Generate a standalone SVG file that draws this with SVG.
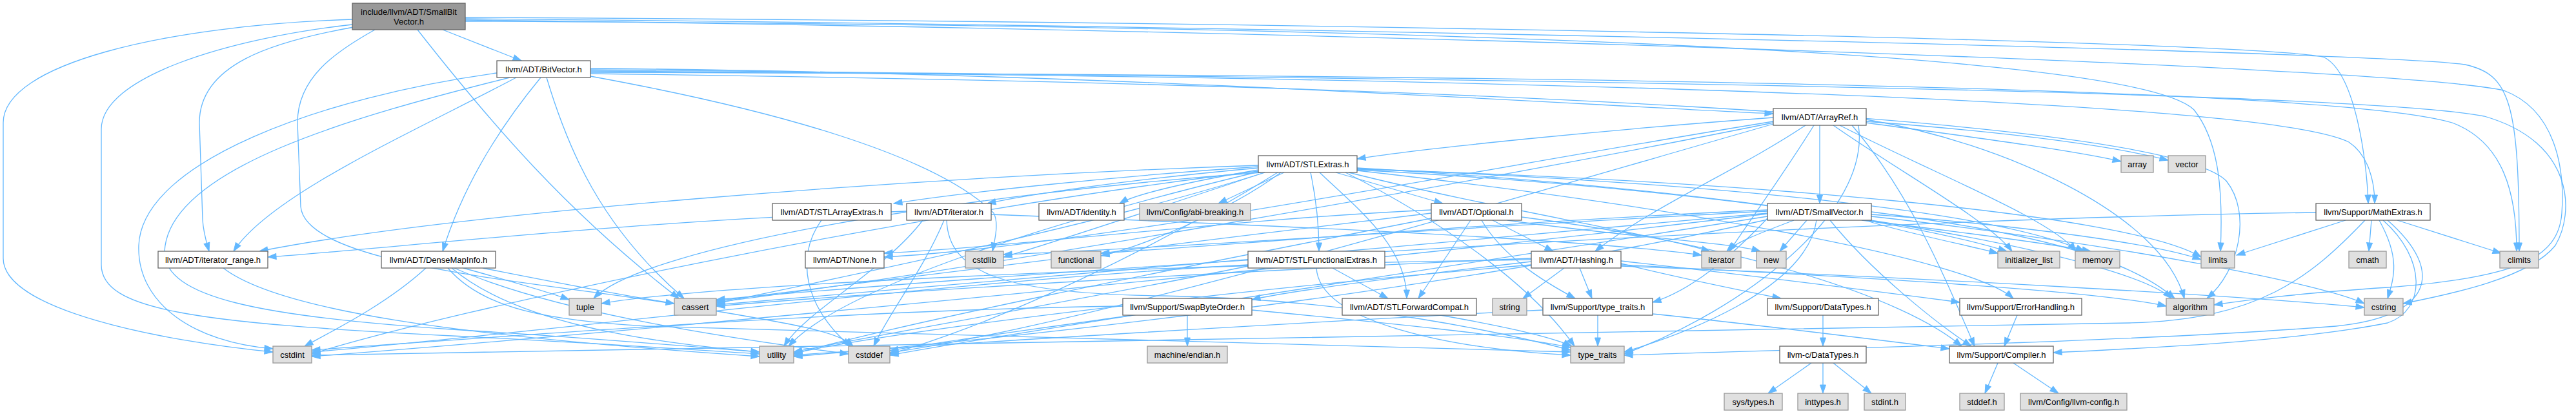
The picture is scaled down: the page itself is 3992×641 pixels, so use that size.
<svg xmlns="http://www.w3.org/2000/svg" width="3992" height="641" viewBox="0 0 3992 641">
<style>
.n rect{fill:#ffffff;stroke:#666666;stroke-width:1.3}
.x rect{fill:#e0e0e0;stroke:#999999;stroke-width:1.3}
.r rect{fill:#999999;stroke:#666666;stroke-width:1.3}
text{font-family:"Liberation Sans",Arial,Helvetica,sans-serif;font-size:13px;fill:#000000;text-anchor:middle}
#edges path{fill:none;stroke:#63b8ff;stroke-width:1.3;marker-end:url(#ah)}
</style>
<defs>
<marker id="ah" markerUnits="userSpaceOnUse" markerWidth="14" markerHeight="10" refX="13" refY="5" orient="auto" viewBox="0 0 14 10" overflow="visible">
<path d="M0,0.5 L13,5 L0,9.5 z" fill="#63b8ff" stroke="#63b8ff" stroke-width="1"/>
</marker>
</defs>
<rect x="0" y="0" width="3992" height="641" fill="#ffffff"/>
<g id="edges">
<path d="M686,46 L808,94"/>
<path d="M546,30 C250,40 5,100 5,190 L5,400 C5,480 250,528 423,545"/>
<path d="M546,38 C350,60 157,120 157,200 L157,410 C157,480 300,500 700,520 C900,530 1050,540 1177,548"/>
<path d="M548,42 C420,65 309,100 309,190 L314,340 C315,360 320,375 324,389"/>
<path d="M581,46 C520,80 461,120 461,190 L466,320 C475,420 900,440 1100,480 C1250,505 1300,515 1322,536"/>
<path d="M647,46 C760,190 880,330 1052,462"/>
<path d="M721,27 C1800,32 3450,60 3600,88 C3650,110 3668,250 3670,315"/>
<path d="M721,29 C2000,40 3700,80 3820,100 C3890,115 3904,160 3904,389"/>
<path d="M721,31 C2000,45 3700,100 3880,140 C3960,170 3975,260 3970,330 C3965,400 3900,430 3700,445 C3550,455 3480,465 3431,472"/>
<path d="M721,33 C2000,38 3300,70 3400,170 C3440,220 3445,300 3441,389"/>
<path d="M915,106 C1700,112 2400,160 2748,176"/>
<path d="M838,120 C780,190 720,280 686,389"/>
<path d="M800,120 C650,200 420,300 362,389"/>
<path d="M915,110 C2200,118 3500,150 3640,220 C3670,240 3680,280 3680,315"/>
<path d="M915,114 C2200,130 3350,180 3450,280 C3490,330 3470,420 3420,462"/>
<path d="M847,120 C880,230 930,350 1060,462"/>
<path d="M915,112 C2200,115 3600,130 3800,190 C3880,220 3900,300 3900,389"/>
<path d="M770,113 C500,150 220,250 215,380 C212,470 300,530 423,540"/>
<path d="M790,120 C550,180 260,260 255,390 C255,460 400,490 700,510 C900,522 1050,535 1177,545"/>
<path d="M915,118 C1200,170 1450,240 1540,330 C1548,345 1542,370 1538,389"/>
<path d="M915,108 C2200,120 3650,140 3850,180 C3990,220 3990,330 3960,380 C3920,430 3800,455 3724,470"/>
<path d="M2820,194 L2820,315"/>
<path d="M2748,182 C2500,200 2200,230 2103,246"/>
<path d="M2798,194 C2700,260 2560,320 2472,389"/>
<path d="M2748,188 C2300,260 1700,380 1370,398"/>
<path d="M2870,194 C2960,300 3010,420 3060,536"/>
<path d="M2892,185 C3100,220 3350,330 3385,462"/>
<path d="M2892,190 C3000,205 3200,230 3287,250"/>
<path d="M2748,190 C2300,280 1500,420 1110,468"/>
<path d="M2748,192 C2300,320 1700,500 1379,546"/>
<path d="M2841,194 C2950,270 3080,340 3118,389"/>
<path d="M2811,194 C2770,260 2720,330 2680,389"/>
<path d="M2851,194 C3000,270 3180,340 3217,389"/>
<path d="M2880,194 C2900,330 2700,480 2517,548"/>
<path d="M2892,188 C3050,200 3250,220 3360,248"/>
<path d="M2070,267 L2236,315"/>
<path d="M1950,258 C1700,275 1480,300 1385,315"/>
<path d="M2045,267 C2100,320 2180,380 2180,462"/>
<path d="M2031,267 C2040,310 2044,350 2044,389"/>
<path d="M1950,263 C1850,280 1760,300 1735,315"/>
<path d="M1950,260 C1750,278 1600,300 1530,315"/>
<path d="M1950,256 C1400,275 700,330 402,389"/>
<path d="M1990,267 L1888,315"/>
<path d="M2103,264 C2600,320 3050,400 3120,462"/>
<path d="M2103,260 C2800,300 3300,400 3365,462"/>
<path d="M1960,267 C1700,350 1300,430 1110,470"/>
<path d="M1980,267 C1800,380 1550,500 1379,548"/>
<path d="M1950,265 C1400,330 700,480 483,548"/>
<path d="M1960,267 C1800,320 1620,380 1555,398"/>
<path d="M1985,267 C1900,330 1760,385 1706,396"/>
<path d="M2103,263 C2600,290 2950,340 3110,389"/>
<path d="M2090,267 C2300,320 2550,360 2650,389"/>
<path d="M2103,262 C2700,280 3300,330 3411,398"/>
<path d="M2103,261 C2700,285 3100,330 3230,389"/>
<path d="M1955,267 C1500,300 1000,380 920,462"/>
<path d="M2085,267 C2250,350 2380,450 2440,536"/>
<path d="M1950,266 C1600,350 1300,450 1222,536"/>
<path d="M2313,341 L2407,389"/>
<path d="M2218,325 C1900,340 1600,380 1370,392"/>
<path d="M2279,341 L2198,462"/>
<path d="M2358,336 C2700,380 2950,460 3040,536"/>
<path d="M2296,341 C2330,400 2400,440 2441,462"/>
<path d="M2218,330 C1800,380 1300,440 1110,466"/>
<path d="M2336,341 C2500,365 2680,375 2728,389"/>
<path d="M2218,338 C1800,420 1400,500 1230,548"/>
<path d="M2512,408 C2600,430 2700,450 2760,462"/>
<path d="M2512,404 C2700,425 2900,450 3037,468"/>
<path d="M2373,405 C2200,425 2000,450 1940,464"/>
<path d="M2448,415 L2467,462"/>
<path d="M2512,410 C2900,430 3250,450 3357,474"/>
<path d="M2373,400 C1900,420 1400,450 1110,474"/>
<path d="M2512,412 C3000,430 3500,460 3664,476"/>
<path d="M2424,415 L2360,462"/>
<path d="M2373,402 C1800,410 1100,440 932,470"/>
<path d="M2373,410 C1900,450 1400,510 1230,547"/>
<path d="M2836,341 C2900,420 3000,500 3055,536"/>
<path d="M2739,338 C2680,400 2620,450 2561,468"/>
<path d="M2900,328 C3150,360 3300,400 3370,462"/>
<path d="M2739,330 C2200,380 1500,440 1110,472"/>
<path d="M2739,335 C2200,420 1600,510 1379,550"/>
<path d="M2739,331 C2000,420 900,520 483,552"/>
<path d="M2739,327 C2300,350 1800,385 1555,394"/>
<path d="M2900,335 C3300,380 3600,440 3664,470"/>
<path d="M2739,325 C2300,345 1900,380 1706,392"/>
<path d="M2890,341 C2950,360 3050,380 3096,392"/>
<path d="M2780,341 C2730,360 2690,375 2676,389"/>
<path d="M2900,332 C3150,350 3350,380 3411,402"/>
<path d="M2885,341 C3050,360 3190,380 3240,389"/>
<path d="M2800,341 L2758,389"/>
<path d="M2815,341 C2800,450 2600,520 2517,545"/>
<path d="M2739,340 C2200,460 1500,530 1230,552"/>
<path d="M3693,341 C3760,400 3760,480 3700,500 C3550,530 3300,540 3182,546"/>
<path d="M3589,329 C2800,340 1600,420 1110,464"/>
<path d="M3715,341 L3876,392"/>
<path d="M3675,341 L3671,389"/>
<path d="M3665,341 C3580,430 3500,495 3300,500 C2000,520 800,545 483,550"/>
<path d="M3687,341 C3720,400 3710,430 3700,462"/>
<path d="M3635,341 L3466,395"/>
<path d="M3700,341 C3790,420 3770,490 3620,505 C3300,530 2800,540 2517,550"/>
<path d="M1405,327 C1000,340 600,385 415,398"/>
<path d="M1463,341 C1430,420 1380,480 1354,536"/>
<path d="M1536,332 C2000,350 2450,370 2637,395"/>
<path d="M1467,341 C1470,420 1550,455 1800,458 C2100,462 2350,520 2434,542"/>
<path d="M1430,341 C1370,420 1250,480 1215,536"/>
<path d="M346,415 C430,480 700,520 1177,552"/>
<path d="M748,415 C850,435 950,455 1045,470"/>
<path d="M704,415 C850,480 1100,520 1315,548"/>
<path d="M660,415 C600,470 520,510 472,536"/>
<path d="M718,415 C790,435 850,452 882,464"/>
<path d="M694,415 C750,480 850,495 1000,505 C1600,520 2200,535 2434,545"/>
<path d="M700,415 C800,500 1000,530 1177,545"/>
<path d="M1273,341 C1230,400 1250,480 1318,536"/>
<path d="M2065,415 L2151,462"/>
<path d="M1934,410 C1400,440 800,520 483,545"/>
<path d="M2040,415 C2045,500 2250,540 2434,550"/>
<path d="M1934,412 C1700,460 1350,520 1230,545"/>
<path d="M2232,488 C2330,505 2400,520 2436,536"/>
<path d="M1756,488 C1600,510 1450,530 1379,543"/>
<path d="M1740,474 C1300,480 800,520 483,542"/>
<path d="M1940,480 C2150,500 2350,520 2434,538"/>
<path d="M1840,488 L1840,536"/>
<path d="M2561,486 C2700,500 2900,525 3021,540"/>
<path d="M2476,488 L2476,536"/>
<path d="M2391,480 C2000,500 1500,530 1230,550"/>
<path d="M2825,488 L2825,536"/>
<path d="M2807,562 L2740,609"/>
<path d="M2825,562 L2825,609"/>
<path d="M2841,562 L2900,609"/>
<path d="M3126,488 L3106,536"/>
<path d="M3096,562 L3076,609"/>
<path d="M3120,562 L3190,609"/>
</g>
<g id="node1" class="r"><rect x="546" y="5" width="175" height="41"/><text x="633.5" y="23">include/llvm/ADT/SmallBit</text><text x="633.5" y="38">Vector.h</text></g>
<g id="node2" class="n"><rect x="770" y="94" width="145" height="26"/><text x="842.5" y="111.5">llvm/ADT/BitVector.h</text></g>
<g id="node3" class="n"><rect x="2748" y="168" width="144" height="26"/><text x="2820" y="185.5">llvm/ADT/ArrayRef.h</text></g>
<g id="node4" class="n"><rect x="1950" y="241" width="153" height="26"/><text x="2026.5" y="258.5">llvm/ADT/STLExtras.h</text></g>
<g id="node5" class="x"><rect x="3287" y="241" width="50" height="26"/><text x="3312" y="258.5">array</text></g>
<g id="node6" class="x"><rect x="3360" y="241" width="58" height="26"/><text x="3389" y="258.5">vector</text></g>
<g id="node7" class="n"><rect x="1197" y="315" width="184" height="26"/><text x="1289" y="332.5">llvm/ADT/STLArrayExtras.h</text></g>
<g id="node8" class="n"><rect x="1405" y="315" width="131" height="26"/><text x="1470.5" y="332.5">llvm/ADT/iterator.h</text></g>
<g id="node9" class="n"><rect x="1610" y="315" width="132" height="26"/><text x="1676" y="332.5">llvm/ADT/identity.h</text></g>
<g id="node10" class="x"><rect x="1766" y="315" width="172" height="26"/><text x="1852" y="332.5">llvm/Config/abi-breaking.h</text></g>
<g id="node11" class="n"><rect x="2218" y="315" width="140" height="26"/><text x="2288" y="332.5">llvm/ADT/Optional.h</text></g>
<g id="node12" class="n"><rect x="2739" y="315" width="161" height="26"/><text x="2819.5" y="332.5">llvm/ADT/SmallVector.h</text></g>
<g id="node13" class="n"><rect x="3589" y="315" width="177" height="26"/><text x="3677.5" y="332.5">llvm/Support/MathExtras.h</text></g>
<g id="node14" class="n"><rect x="245" y="389" width="170" height="26"/><text x="330" y="406.5">llvm/ADT/iterator_range.h</text></g>
<g id="node15" class="n"><rect x="591" y="389" width="177" height="26"/><text x="679.5" y="406.5">llvm/ADT/DenseMapInfo.h</text></g>
<g id="node16" class="n"><rect x="1248" y="389" width="122" height="26"/><text x="1309" y="406.5">llvm/ADT/None.h</text></g>
<g id="node17" class="x"><rect x="1496" y="389" width="59" height="26"/><text x="1525.5" y="406.5">cstdlib</text></g>
<g id="node18" class="x"><rect x="1629" y="389" width="77" height="26"/><text x="1667.5" y="406.5">functional</text></g>
<g id="node19" class="n"><rect x="1934" y="389" width="212" height="26"/><text x="2040" y="406.5">llvm/ADT/STLFunctionalExtras.h</text></g>
<g id="node20" class="n"><rect x="2373" y="389" width="139" height="26"/><text x="2442.5" y="406.5">llvm/ADT/Hashing.h</text></g>
<g id="node21" class="x"><rect x="2637" y="389" width="61" height="26"/><text x="2667.5" y="406.5">iterator</text></g>
<g id="node22" class="x"><rect x="2722" y="389" width="46" height="26"/><text x="2745" y="406.5">new</text></g>
<g id="node23" class="x"><rect x="3096" y="389" width="96" height="26"/><text x="3144" y="406.5">initializer_list</text></g>
<g id="node24" class="x"><rect x="3216" y="389" width="69" height="26"/><text x="3250.5" y="406.5">memory</text></g>
<g id="node25" class="x"><rect x="3411" y="389" width="52" height="26"/><text x="3437" y="406.5">limits</text></g>
<g id="node26" class="x"><rect x="3640" y="389" width="58" height="26"/><text x="3669" y="406.5">cmath</text></g>
<g id="node27" class="x"><rect x="3874" y="389" width="60" height="26"/><text x="3904" y="406.5">climits</text></g>
<g id="node28" class="x"><rect x="882" y="462" width="50" height="26"/><text x="907" y="479.5">tuple</text></g>
<g id="node29" class="x"><rect x="1045" y="462" width="65" height="26"/><text x="1077.5" y="479.5">cassert</text></g>
<g id="node30" class="n"><rect x="1740" y="462" width="200" height="26"/><text x="1840" y="479.5">llvm/Support/SwapByteOrder.h</text></g>
<g id="node31" class="n"><rect x="2080" y="462" width="208" height="26"/><text x="2184" y="479.5">llvm/ADT/STLForwardCompat.h</text></g>
<g id="node32" class="x"><rect x="2313" y="462" width="53" height="26"/><text x="2339.5" y="479.5">string</text></g>
<g id="node33" class="n"><rect x="2391" y="462" width="170" height="26"/><text x="2476" y="479.5">llvm/Support/type_traits.h</text></g>
<g id="node34" class="n"><rect x="2739" y="462" width="172" height="26"/><text x="2825" y="479.5">llvm/Support/DataTypes.h</text></g>
<g id="node35" class="n"><rect x="3037" y="462" width="189" height="26"/><text x="3131.5" y="479.5">llvm/Support/ErrorHandling.h</text></g>
<g id="node36" class="x"><rect x="3357" y="462" width="74" height="26"/><text x="3394" y="479.5">algorithm</text></g>
<g id="node37" class="x"><rect x="3664" y="462" width="60" height="26"/><text x="3694" y="479.5">cstring</text></g>
<g id="node38" class="x"><rect x="423" y="536" width="60" height="26"/><text x="453" y="553.5">cstdint</text></g>
<g id="node39" class="x"><rect x="1177" y="536" width="53" height="26"/><text x="1203.5" y="553.5">utility</text></g>
<g id="node40" class="x"><rect x="1315" y="536" width="64" height="26"/><text x="1347" y="553.5">cstddef</text></g>
<g id="node41" class="x"><rect x="1778" y="536" width="124" height="26"/><text x="1840" y="553.5">machine/endian.h</text></g>
<g id="node42" class="x"><rect x="2434" y="536" width="83" height="26"/><text x="2475.5" y="553.5">type_traits</text></g>
<g id="node43" class="n"><rect x="2758" y="536" width="134" height="26"/><text x="2825" y="553.5">llvm-c/DataTypes.h</text></g>
<g id="node44" class="n"><rect x="3021" y="536" width="161" height="26"/><text x="3101.5" y="553.5">llvm/Support/Compiler.h</text></g>
<g id="node45" class="x"><rect x="2672" y="609" width="90" height="26"/><text x="2717" y="626.5">sys/types.h</text></g>
<g id="node46" class="x"><rect x="2786" y="609" width="78" height="26"/><text x="2825" y="626.5">inttypes.h</text></g>
<g id="node47" class="x"><rect x="2889" y="609" width="64" height="26"/><text x="2921" y="626.5">stdint.h</text></g>
<g id="node48" class="x"><rect x="3037" y="609" width="69" height="26"/><text x="3071.5" y="626.5">stddef.h</text></g>
<g id="node49" class="x"><rect x="3131" y="609" width="165" height="26"/><text x="3213.5" y="626.5">llvm/Config/llvm-config.h</text></g>
</svg>
